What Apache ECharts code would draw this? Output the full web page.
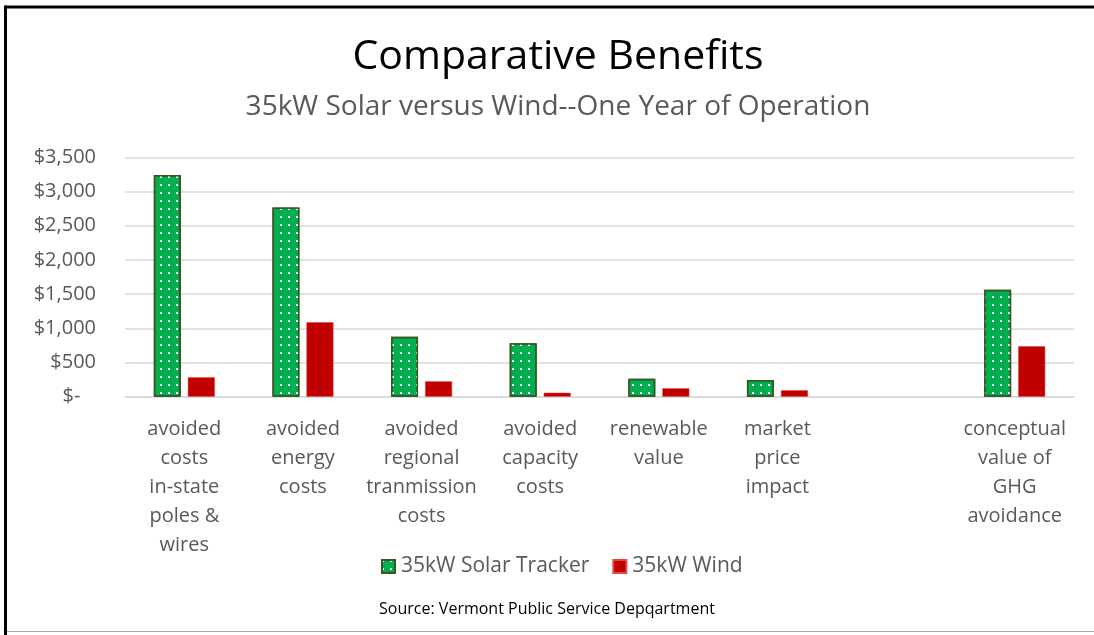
<!DOCTYPE html>
<html>
<head>
<meta charset="utf-8">
<script src="https://cdn.jsdelivr.net/npm/echarts@6/dist/echarts.min.js"></script>
<style>
html,body{margin:0;padding:0;background:#fff;}
#chart{width:1094px;height:635px;}
</style>
</head>
<body>
<div id="chart"></div>
<script>
var categories = [
  'avoided\ncosts\nin-state\npoles &\nwires',
  'avoided\nenergy\ncosts',
  'avoided\nregional\ntranmission\ncosts',
  'avoided\ncapacity\ncosts',
  'renewable\nvalue',
  'market\nprice\nimpact',
  '',
  'conceptual\nvalue of\nGHG\navoidance'
];
var solarValues = [3240, 2765, 877, 781, 263, 244, null, 1564];
var windValues = [284, 1088, 225, 58, 123, 94, null, 737];
var seriesNames = ['35kW Solar Tracker', '35kW Wind'];
var titleText = 'Comparative Benefits';
var subtitleText = '35kW Solar versus Wind--One Year of Operation';
var sourceText = 'Source: Vermont Public Service Depqartment';

var FONT = '"Open Sans", "Noto Sans", sans-serif';
var chart = echarts.init(document.getElementById('chart'), null, {renderer: 'canvas'});

var solarStyle = {
  color: '#00B050',
  borderColor: '#385723',
  borderWidth: 1.5,
  decal: {
    symbol: 'rect',
    symbolSize: 1,
    color: '#ffffff',
    dashArrayX: [2, 6],
    dashArrayY: [2, 6],
    rotation: 0
  }
};

chart.setOption({
  backgroundColor: '#ffffff',
  animation: false,
  title: [
    {text: titleText, left: 553, textAlign: 'center', top: 32,
     textStyle: {fontFamily: FONT, fontSize: 41, fontWeight: 'normal', color: '#000000'}},
    {text: subtitleText, left: 553, textAlign: 'center', top: 88,
     textStyle: {fontFamily: FONT, fontSize: 28, fontWeight: 'normal', color: '#595959'}},
    {text: sourceText, left: 'center', top: 596,
     textStyle: {fontFamily: FONT, fontSize: 16, fontWeight: 'normal', color: '#000000'}}
  ],
  legend: {
    data: seriesNames,
    top: 551,
    left: 376,
    itemWidth: 13,
    itemHeight: 13,
    itemGap: 23,
    icon: 'rect',
    textStyle: {fontFamily: FONT, fontSize: 21, color: '#595959', padding: [0, 0, 0, 1]}
  },
  grid: {left: 125, right: 20, top: 157.3, bottom: 238.3, containLabel: false},
  xAxis: {
    type: 'category',
    data: categories,
    axisLine: {show: true, lineStyle: {color: '#D9D9D9', width: 1.5}},
    axisTick: {show: false},
    axisLabel: {interval: 0, fontFamily: FONT, fontSize: 20, color: '#595959',
                lineHeight: 29, margin: 18}
  },
  yAxis: {
    type: 'value',
    min: 0, max: 3500, interval: 500,
    axisLine: {show: false},
    axisTick: {show: false},
    splitLine: {lineStyle: {color: '#D9D9D9', width: 1.5}},
    axisLabel: {
      fontFamily: FONT, fontSize: 20, color: '#595959', margin: 29,
      formatter: function (v) {
        if (v === 0) return '$-   ';
        return '$' + v.toLocaleString('en-US');
      }
    }
  },
  series: [
    {name: seriesNames[0], type: 'bar', data: solarValues, barWidth: 27, barGap: '26%',
     itemStyle: solarStyle},
    {name: seriesNames[1], type: 'bar', data: windValues, barWidth: 27,
     itemStyle: {color: '#C00000', borderColor: '#E04848', borderWidth: 0.5}}
  ],
  graphic: [
    {type: 'line', shape: {x1: 5.5, y1: 7, x2: 1094, y2: 7}, style: {stroke: '#000', lineWidth: 3}},
    {type: 'line', shape: {x1: 5.5, y1: 5.5, x2: 5.5, y2: 635}, style: {stroke: '#000', lineWidth: 3}},
    {type: 'line', shape: {x1: 7, y1: 631.5, x2: 1094, y2: 631.5}, style: {stroke: '#A6A6A6', lineWidth: 1}}
  ]
});
</script>
</body>
</html>
